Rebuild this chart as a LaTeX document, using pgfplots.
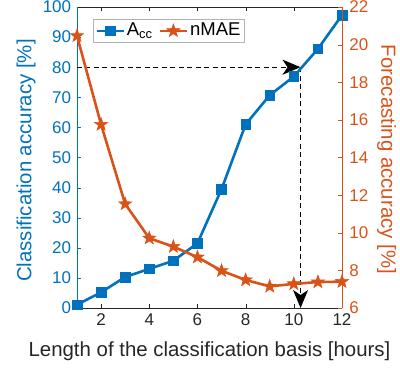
\documentclass[border=0pt]{standalone}
\usepackage{pgfplots}
\pgfplotsset{compat=1.18}
\usepackage{fontspec}
\setmainfont{Liberation Sans}
\usetikzlibrary{arrows.meta}
\definecolor{mblue}{rgb}{0,0.447,0.741}
\definecolor{morange}{rgb}{0.85,0.325,0.098}
\definecolor{mgray}{rgb}{0.15,0.15,0.15}
\pgfdeclareplotmark{fstar}{%
  \pgfpathmoveto{\pgfpointpolar{90}{\pgfplotmarksize}}%
  \pgfpathlineto{\pgfpointpolar{126}{0.40\pgfplotmarksize}}%
  \pgfpathlineto{\pgfpointpolar{162}{\pgfplotmarksize}}%
  \pgfpathlineto{\pgfpointpolar{198}{0.40\pgfplotmarksize}}%
  \pgfpathlineto{\pgfpointpolar{234}{\pgfplotmarksize}}%
  \pgfpathlineto{\pgfpointpolar{270}{0.40\pgfplotmarksize}}%
  \pgfpathlineto{\pgfpointpolar{306}{\pgfplotmarksize}}%
  \pgfpathlineto{\pgfpointpolar{342}{0.40\pgfplotmarksize}}%
  \pgfpathlineto{\pgfpointpolar{18}{\pgfplotmarksize}}%
  \pgfpathlineto{\pgfpointpolar{54}{0.40\pgfplotmarksize}}%
  \pgfpathclose
  \pgfusepathqfillstroke
}
\begin{document}
\fontsize{17}{20}\selectfont
\begin{tikzpicture}
\pgfplotsset{
  every axis/.append style={
    scale only axis, width=265pt, height=301pt,
    xmin=1, xmax=12,
    tick align=inside,
    major tick length=4pt,
    /pgf/number format/assume math mode=true,
    tick label style={font=\fontsize{17}{20}\selectfont},
    label style={font=\fontsize{20.4}{24}\selectfont},
  }
}
\begin{axis}[
  ymin=0, ymax=100,
  axis y line*=left,
  xtick={2,4,...,12}, ytick={0,10,...,100},
  x axis line style={mgray}, x tick style={mgray}, xticklabel style={mgray},
  y axis line style={mblue}, y tick style={mblue}, yticklabel style={mblue},
  xlabel={Length of the classification basis [hours]},
  xlabel style={mgray, at={(axis description cs:0.5,0)}, anchor=center, yshift=-43pt},
  ylabel={Classification accuracy [\%]},
  ylabel style={mblue, at={([xshift=-50.8pt,yshift=-3pt]axis description cs:0,0.5)}, anchor=center},
]
\draw[black, dash pattern=on 5pt off 3.5pt, line width=1.3pt, -{Stealth[length=18pt,width=15pt,inset=5pt]}] (axis cs:1,80) -- (axis cs:10.28,80);
\draw[black, dash pattern=on 5pt off 3.5pt, line width=1.3pt, -{Stealth[length=18pt,width=15pt,inset=5pt]}] (axis cs:10.28,80) -- (axis cs:10.28,0);
\addplot[mblue, line width=2.6pt, mark=square*, mark size=4.8pt, mark options={solid, line width=0.5pt}] coordinates {
(1,1.1) (2,5.2) (3,10.3) (4,13) (5,15.7) (6,21.5) (7,39.5) (8,61) (9,70.7) (10,76.9) (11,86.1) (12,97.3)
};
\end{axis}
\begin{axis}[
  ymin=6, ymax=22,
  axis y line*=right, axis x line=none,
  ytick={6,8,...,22},
  yticklabel style={xshift=1.5pt},
  y axis line style={morange}, y tick style={morange}, yticklabel style={morange},
  ylabel={Forecasting accuracy [\%]},
  ylabel style={morange, at={([xshift=44.6pt,yshift=-2pt]axis description cs:1,0.5)}, anchor=center, rotate=180},
  legend columns=2,
  legend style={at={(0.0604,0.96)}, anchor=north west, draw=gray!60, text=black, font=\fontsize{18.5}{22}\selectfont, inner sep=2pt,
    /tikz/every even column/.append style={column sep=4pt}},
  legend image code/.code={\draw[#1, mark repeat=2, mark phase=2] plot coordinates {(0pt,0pt) (13.5pt,0pt) (27pt,0pt)};},
]
\addlegendimage{mblue, line width=2.6pt, mark=square*, mark size=4.8pt, mark options={solid, line width=0.5pt}}
\addlegendentry{A\textsubscript{cc}}
\addplot[morange, line width=2.6pt, mark=fstar, mark size=7pt, mark options={solid, fill=morange, line width=0.5pt}] coordinates {
(1,20.47) (2,15.75) (3,11.53) (4,9.71) (5,9.26) (6,8.7) (7,7.98) (8,7.49) (9,7.15) (10,7.28) (11,7.38) (12,7.4)
};
\addlegendentry{nMAE}
\end{axis}
\pgfresetboundingbox
\path[use as bounding box] (-77pt,-60pt) rectangle (323pt,308pt);
\end{tikzpicture}
\end{document}
